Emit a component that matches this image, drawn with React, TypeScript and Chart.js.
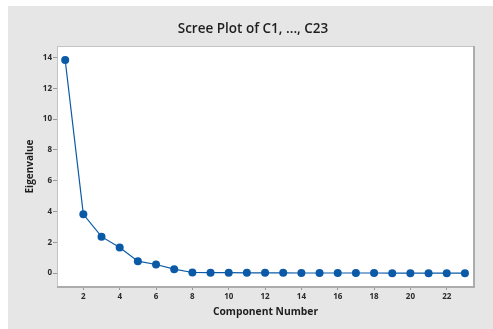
import React, { useEffect, useRef } from "react";
import { Chart, registerables } from "chart.js";

Chart.register(...registerables);

const components = [1, 2, 3, 4, 5, 6, 7, 8, 9, 10, 11, 12, 13, 14, 15, 16, 17, 18, 19, 20, 21, 22, 23];
const eigenvalues = [13.84, 3.82, 2.37, 1.66, 0.78, 0.56, 0.26, 0.04, 0.03, 0.03, 0.02, 0.02, 0.02, 0.01, 0.01, 0.01, 0.01, 0.01, 0.0, 0.0, 0.0, 0.0, 0.0];
const xTicks = [2, 4, 6, 8, 10, 12, 14, 16, 18, 20, 22];
const yTicks = [0, 2, 4, 6, 8, 10, 12, 14];

const titleText = "Scree Plot of C1, ..., C23";
const xTitle = "Component Number";
const yTitle = "Eigenvalue";

const FONT = "'Open Sans', 'Noto Sans', sans-serif";
const BLUE = "#0b5aa7";

const plotBg = {
  id: "plotBg",
  beforeDatasetsDraw(chart: any) {
    const { ctx, chartArea: a } = chart;
    ctx.save();
    ctx.fillStyle = "#ffffff";
    ctx.fillRect(a.left, a.top, a.right - a.left, a.bottom - a.top);
    ctx.strokeStyle = "#c4c4c4";
    ctx.lineWidth = 1;
    ctx.strokeRect(a.left + 0.5, a.top + 0.5, a.right - a.left - 1, a.bottom - a.top - 1);
    ctx.strokeStyle = "#acacac";
    ctx.lineWidth = 2;
    ctx.beginPath();
    ctx.moveTo(a.right, a.top);
    ctx.lineTo(a.right, a.bottom);
    ctx.lineTo(a.left, a.bottom);
    ctx.stroke();
    ctx.restore();
  },
};

export default function App() {
  const ref = useRef<HTMLCanvasElement | null>(null);
  useEffect(() => {
    if (!ref.current) return;
    const chart = new Chart(ref.current, {
      type: "line",
      data: {
        datasets: [
          {
            data: components.map((c, i) => ({ x: c, y: eigenvalues[i] })),
            borderColor: BLUE,
            backgroundColor: BLUE,
            borderWidth: 1.2,
            pointRadius: 4,
            pointBackgroundColor: BLUE,
            pointBorderColor: BLUE,
            pointBorderWidth: 0,
            tension: 0,
          },
        ],
      },
      options: {
        responsive: false,
        animation: false,
        layout: { padding: { left: 24, right: 19, top: 0, bottom: 0 } },
        plugins: {
          legend: { display: false },
          tooltip: { enabled: false },
          title: {
            display: true,
            text: titleText,
            color: "#1e1e1e",
            font: { family: FONT, size: 13.5, weight: "600" as any, lineHeight: 1.2 },
            padding: { top: 15, bottom: 8.8 },
          },
        },
        scales: {
          x: {
            type: "linear",
            min: 0.55,
            max: 23.5,
            afterBuildTicks: (s: any) => {
              s.ticks = xTicks.map((v) => ({ value: v }));
            },
            afterFit: (s: any) => {
              s.height = 42;
            },
            border: { display: false },
            grid: { drawOnChartArea: false, drawTicks: true, tickLength: 3, color: "#9a9a9a" },
            ticks: {
              color: "#2a2a2a",
              padding: 2,
              autoSkip: false,
              maxRotation: 0,
              font: { family: FONT, size: 8, weight: "bold" },
            },
            title: {
              display: true,
              text: xTitle,
              color: "#1e1e1e",
              font: { family: FONT, size: 10.3, weight: "bold", lineHeight: 1.2 },
              padding: { top: 0, bottom: 10.3 },
            },
          },
          y: {
            type: "linear",
            min: -0.9,
            max: 14.75,
            afterBuildTicks: (s: any) => {
              s.ticks = yTicks.map((v) => ({ value: v }));
            },
            afterFit: (s: any) => {
              s.width = 25;
            },
            border: { display: false },
            grid: { drawOnChartArea: false, drawTicks: true, tickLength: 4, color: "#9a9a9a" },
            ticks: {
              color: "#2a2a2a",
              padding: 1,
              font: { family: FONT, size: 8, weight: "bold" },
            },
            title: {
              display: true,
              text: yTitle,
              color: "#1e1e1e",
              font: { family: FONT, size: 10, weight: "bold", lineHeight: 1.2 },
              padding: { top: -8, bottom: 0 },
            },
          },
        },
      },
      plugins: [plotBg],
    });
    return () => chart.destroy();
  }, []);

  return (
    <div
      style={{
        position: "fixed",
        left: 8,
        top: 6,
        width: 485,
        height: 323,
        background: "#e6e6e6",
      }}
    >
      <canvas ref={ref} width={485} height={323} style={{ display: "block", width: 485, height: 323 }} />
    </div>
  );
}
